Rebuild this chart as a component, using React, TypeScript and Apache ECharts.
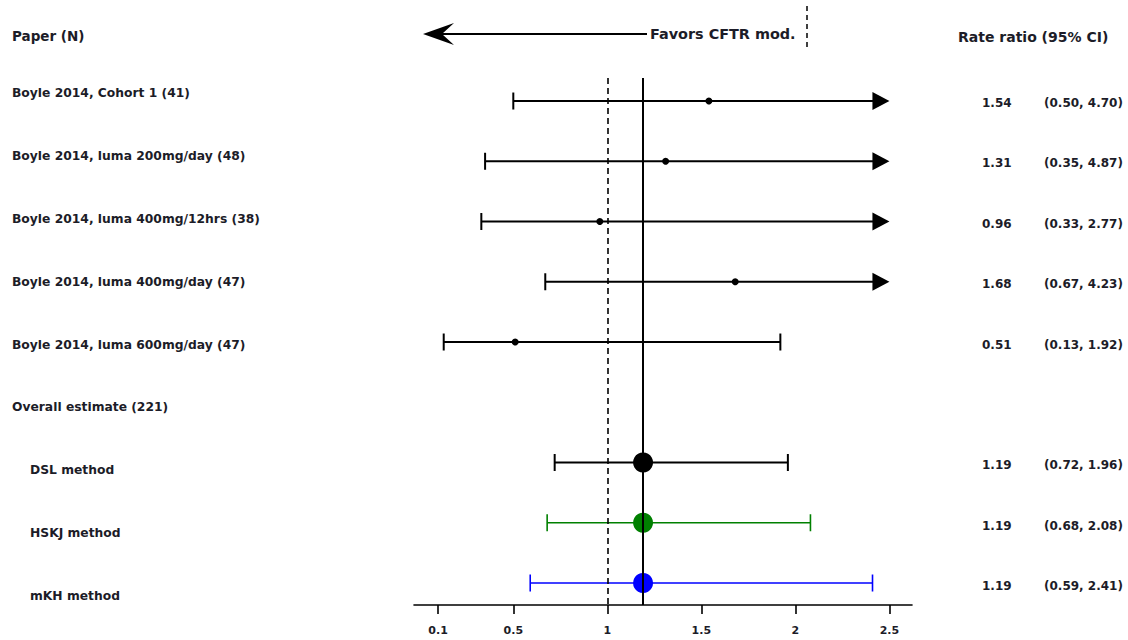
import React, { useEffect, useRef } from "react";
import * as echarts from "echarts";

// ---------- data ----------
const studyLabels = [
  "Boyle 2014, Cohort 1 (41)",
  "Boyle 2014, luma 200mg/day (48)",
  "Boyle 2014, luma 400mg/12hrs (38)",
  "Boyle 2014, luma 400mg/day (47)",
  "Boyle 2014, luma 600mg/day (47)",
];
const studyEst = [1.54, 1.31, 0.96, 1.68, 0.51];
const studyLo = [0.5, 0.35, 0.33, 0.67, 0.13];
const studyHi = [4.7, 4.87, 2.77, 4.23, 1.92];

const overallLabel = "Overall estimate (221)";

const methodLabels = ["DSL method", "HSKJ method", "mKH method"];
const methodEst = [1.19, 1.19, 1.19];
const methodLo = [0.72, 0.68, 0.59];
const methodHi = [1.96, 2.08, 2.41];
const methodColors = ["#000000", "#008000", "#0000ff"];

const xTicks = [0.1, 0.5, 1, 1.5, 2, 2.5];
const nullValue = 1;
const pooledValue = 1.19;
const xMin = -0.028;
const xMax = 2.62;
const truncateAt = 2.5;

const headerLeft = "Paper (N)";
const headerRight = "Rate ratio (95% CI)";
const favorsText = "Favors CFTR mod.";

// ---------- styling ----------
const FONT = '"DejaVu Sans", "Liberation Sans", sans-serif';
const TXT = "#1c1c28";

export default function App() {
  const ref = useRef<HTMLDivElement>(null);

  useEffect(() => {
    document.body.style.margin = "0";
    if (!ref.current) return;
    const chart = echarts.init(ref.current, null, { renderer: "svg" });

    const studyRows = studyLabels.map((_, i) => i);
    const overallRow = studyLabels.length;
    const methodRows = methodLabels.map((_, i) => overallRow + 1 + i);

    const ciData: any[] = [];
    const ciColors: string[] = [];
    const ciWidths: number[] = [];
    studyRows.forEach((r, i) => {
      ciData.push([studyLo[i], studyHi[i], r]);
      ciColors.push("#000000");
      ciWidths.push(2);
    });
    methodRows.forEach((r, i) => {
      ciData.push([methodLo[i], methodHi[i], r]);
      ciColors.push(methodColors[i]);
      ciWidths.push(i === 0 ? 2 : 1.6);
    });

    const pointData: any[] = [];
    studyRows.forEach((r, i) => {
      pointData.push({ value: [studyEst[i], r], symbolSize: 7, itemStyle: { color: "#000", opacity: 1 } });
    });
    methodRows.forEach((r, i) => {
      pointData.push({ value: [methodEst[i], r], symbolSize: 20, itemStyle: { color: methodColors[i], opacity: 1 } });
    });

    const graphics: any[] = [];
    const addText = (text: string, x: number, y: number, size: number, weight = "bold") => {
      graphics.push({
        type: "text",
        x,
        y,
        silent: true,
        style: {
          text,
          font: `${weight} ${size}px ${FONT}`,
          fill: TXT,
          textVerticalAlign: "middle",
          verticalAlign: "middle",
        },
      });
    };

    addText(headerLeft, 12, 36, 13.5);
    addText(headerRight, 958, 37, 14);
    addText(favorsText, 650, 34, 14.4);

    const leftY = (i: number) => 93.3 + 62.8 * i;
    studyLabels.forEach((t, i) => addText(t, 12, leftY(i), 12.3));
    addText(overallLabel, 12, leftY(overallRow), 12.3);
    methodLabels.forEach((t, i) => addText(t, 30, leftY(methodRows[i]), 12.3));

    const rightY = (r: number) => 103 + 60.4 * r;
    const fmt = (v: number) => v.toFixed(2);
    studyRows.forEach((r, i) => {
      addText(fmt(studyEst[i]), 982, rightY(r), 12);
      addText(`(${fmt(studyLo[i])}, ${fmt(studyHi[i])})`, 1044, rightY(r), 12);
    });
    methodRows.forEach((r, i) => {
      addText(fmt(methodEst[i]), 982, rightY(r), 12);
      addText(`(${fmt(methodLo[i])}, ${fmt(methodHi[i])})`, 1044, rightY(r), 12);
    });

    // "favors" arrow
    graphics.push({
      type: "line",
      silent: true,
      shape: { x1: 441, y1: 34, x2: 647, y2: 34 },
      style: { stroke: "#000", lineWidth: 2 },
    });
    graphics.push({
      type: "polygon",
      silent: true,
      shape: { points: [[423, 34], [454, 23], [442, 34], [454, 45]] },
      style: { fill: "#000" },
    });
    graphics.push({
      type: "line",
      silent: true,
      shape: { x1: 807, y1: 6, x2: 807, y2: 50 },
      style: { stroke: "#000", lineWidth: 1.5, lineDash: [5, 4] },
    });

    const option: any = {
      animation: false,
      backgroundColor: "#ffffff",
      grid: { left: 414, right: 216, top: 78, bottom: 35, containLabel: false },
      xAxis: {
        type: "value",
        min: xMin,
        max: xMax,
        axisLine: { show: true, onZero: false, lineStyle: { color: "#000", width: 1.6 } },
        axisTick: {
          show: true,
          length: 9,
          customValues: xTicks,
          lineStyle: { color: "#000", width: 1.6 },
        },
        axisLabel: {
          customValues: xTicks,
          margin: 20,
          color: TXT,
          fontFamily: FONT,
          fontWeight: "bold",
          fontSize: 11,
          formatter: (v: number) => String(v),
        },
        splitLine: { show: false },
      },
      yAxis: {
        type: "value",
        inverse: true,
        min: -0.382,
        max: 8.365,
        show: false,
        splitLine: { show: false },
      },
      series: [
        {
          type: "scatter",
          data: [],
          z: 1,
          markLine: {
            silent: true,
            symbol: "none",
            label: { show: false },
            emphasis: { disabled: true },
            data: [
              { xAxis: nullValue, lineStyle: { type: [6, 4], color: "#000", width: 1.6 } },
              { xAxis: pooledValue, lineStyle: { type: "solid", color: "#000", width: 2 } },
            ],
          },
        },
        {
          type: "custom",
          z: 2,
          silent: true,
          clip: false,
          encode: { x: [0, 1], y: 2 },
          data: ciData,
          renderItem: (params: any, api: any) => {
            const idx = params.dataIndex;
            const lo = api.value(0);
            const hi = api.value(1);
            const row = api.value(2);
            const color = ciColors[idx];
            const lw = ciWidths[idx];
            const trunc = hi > truncateAt;
            const p1 = api.coord([lo, row]);
            const p2 = api.coord([trunc ? truncateAt : hi, row]);
            const capH = 8.5;
            const children: any[] = [
              {
                type: "line",
                shape: { x1: p1[0], y1: p1[1], x2: trunc ? p2[0] - 14 : p2[0], y2: p2[1] },
                style: { stroke: color, lineWidth: lw },
              },
              {
                type: "line",
                shape: { x1: p1[0], y1: p1[1] - capH, x2: p1[0], y2: p1[1] + capH },
                style: { stroke: color, lineWidth: lw },
              },
            ];
            if (trunc) {
              children.push({
                type: "polygon",
                shape: {
                  points: [
                    [p2[0] - 17, p2[1] - 9],
                    [p2[0], p2[1]],
                    [p2[0] - 17, p2[1] + 9],
                  ],
                },
                style: { fill: color },
              });
            } else {
              children.push({
                type: "line",
                shape: { x1: p2[0], y1: p2[1] - capH, x2: p2[0], y2: p2[1] + capH },
                style: { stroke: color, lineWidth: lw },
              });
            }
            return { type: "group", children };
          },
        },
        {
          type: "scatter",
          z: 3,
          silent: true,
          itemStyle: { opacity: 1 },
          data: pointData,
        },
      ],
      graphic: graphics,
    };

    chart.setOption(option);
    return () => chart.dispose();
  }, []);

  return <div ref={ref} style={{ width: 1128, height: 640 }} />;
}
